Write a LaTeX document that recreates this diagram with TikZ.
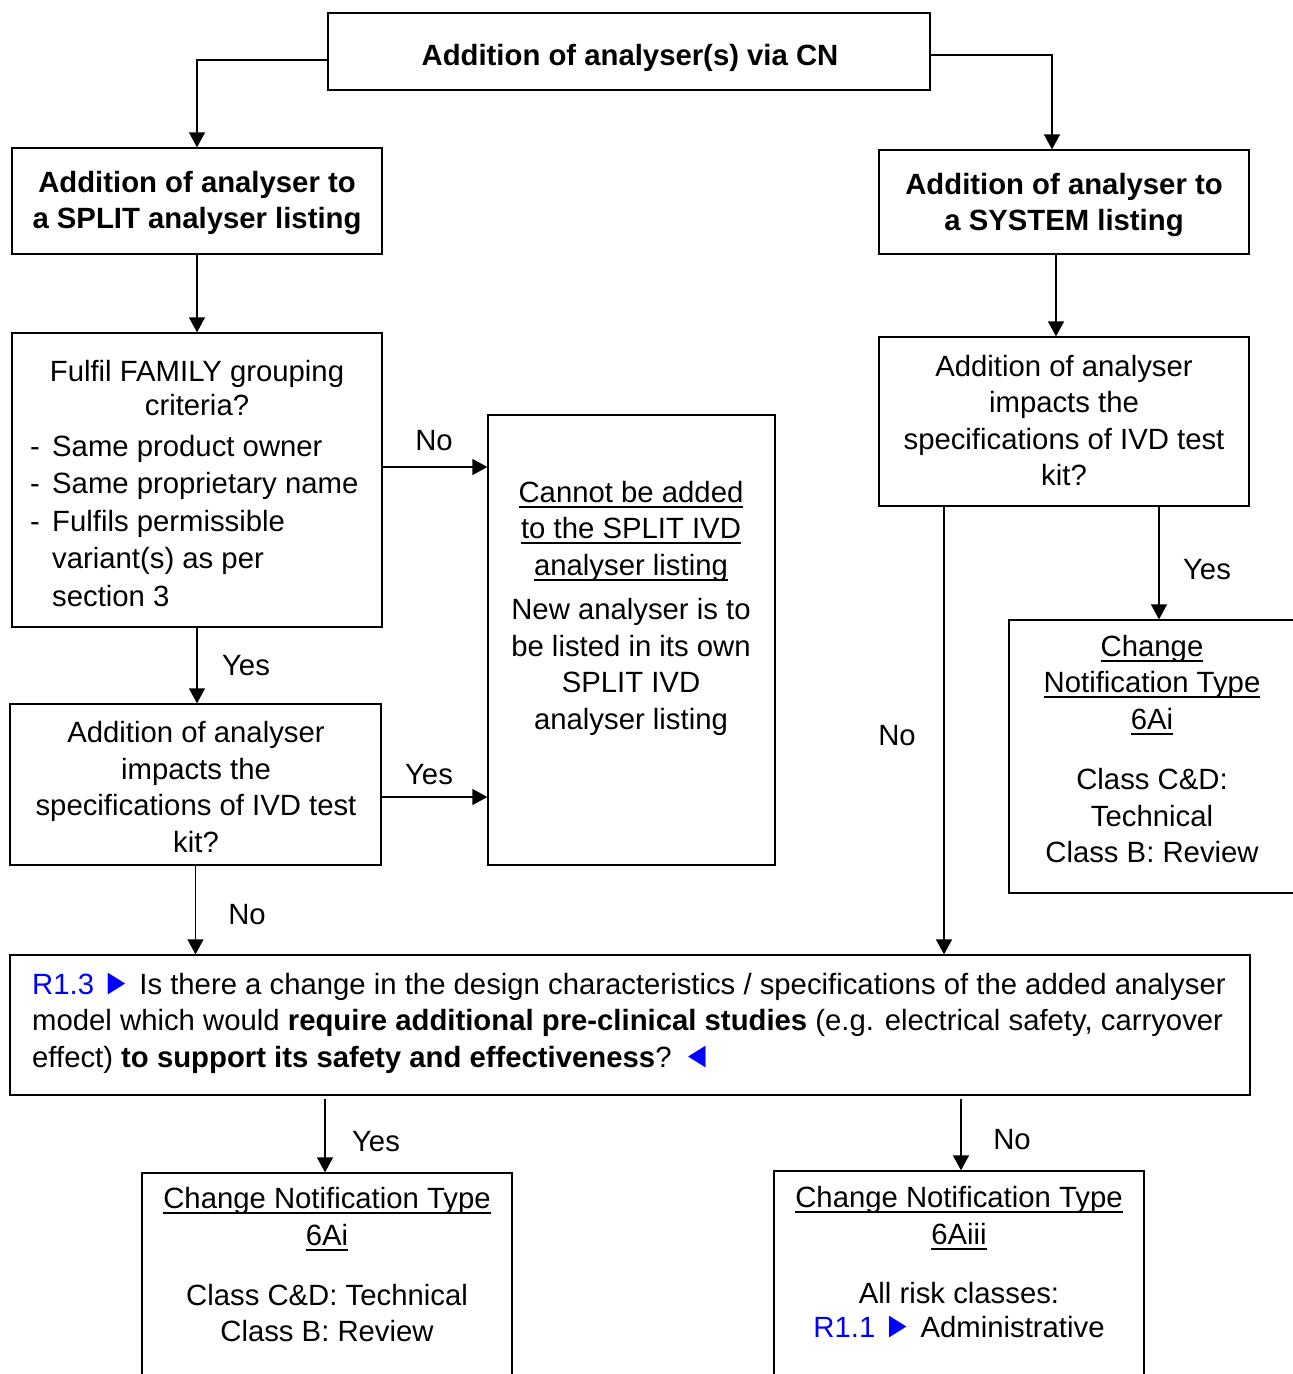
\documentclass[tikz,border=0pt]{standalone}
\usepackage{fontspec}
\setmainfont{Liberation Sans}
\usetikzlibrary{arrows.meta}
\definecolor{refblue}{RGB}{0,0,255}
\newcommand\myul[1]{\leavevmode\setbox0\hbox{#1}\dp0=0pt\vtop{\box0\kern3.5pt\hrule height 1.8pt}}
\newcommand\trir{\scalebox{1.0}[1.25]{►}}
\newcommand\tril{\scalebox{1.0}[1.25]{◄}}
\begin{document}
\begin{tikzpicture}[x=1pt,y=-1pt,
  box/.style={draw, line width=1.3pt, inner sep=0pt, rectangle},
  txt/.style={inner sep=0pt, align=center, font=\fontsize{29.3}{36.5}\selectfont},
  txtl/.style={inner sep=0pt, align=left, anchor=west, font=\fontsize{29.3}{36.5}\selectfont},
  lbl/.style={inner sep=0pt, font=\fontsize{29.3}{36.5}\selectfont},
  arr/.style={line width=1.3pt, -{Triangle[length=15pt,width=16pt]}}]
\useasboundingbox (0,0) rectangle (1293,1374);
\clip (0,0) rectangle (1293,1374);
\fill[white] (0,0) rectangle (1293,1374);
% boxes
\node[box, minimum width=602pt, minimum height=77pt] (top) at (629,51.5) {};
\node[box, minimum width=370pt, minimum height=106pt] (b1) at (197,201) {};
\node[box, minimum width=370pt, minimum height=104pt] (sb1) at (1064,202) {};
\node[box, minimum width=370pt, minimum height=294pt] (fam) at (197,480) {};
\node[box, minimum width=287pt, minimum height=450pt] (cant) at (631.5,640) {};
\node[box, minimum width=371pt, minimum height=161pt] (q3) at (195.5,784.5) {};
\node[box, minimum width=370pt, minimum height=169pt] (rq) at (1064,421.5) {};
\node[box, minimum width=311pt, minimum height=273pt] (rc) at (1164.5,756.5) {};
\node[box, minimum width=1240pt, minimum height=140pt] (big) at (630,1025) {};
\node[box, minimum width=370pt, minimum height=227pt] (bl) at (327,1286.5) {};
\node[box, minimum width=370pt, minimum height=229pt] (br) at (959,1285.5) {};
% texts
\node[txt] (top-t) at (630,58) {\textbf{Addition of analyser(s) via CN}};
\node[txt] (b1-t) at (197,203) {\textbf{Addition of analyser to}\\\textbf{a SPLIT analyser listing}};
\node[txt] (sb1-t) at (1064,205) {\textbf{Addition of analyser to}\\\textbf{a SYSTEM listing}};
\node[txt, font=\fontsize{29.3}{34}\selectfont] (fam-t) at (197,388) {Fulfil FAMILY grouping\\criteria?};
\node[txtl, font=\fontsize{29.3}{37.5}\selectfont] (fam-l) at (30,521) {\makebox[22pt][l]{-}Same product owner\\\makebox[22pt][l]{-}Same proprietary name\\\makebox[22pt][l]{-}Fulfils permissible\\\hspace*{22pt}variant(s) as per\\\hspace*{22pt}section 3};
\node[txt] (cant-t1) at (631,531) {\myul{Cannot be added}\\\myul{to the SPLIT IVD}\\\myul{analyser listing}};
\node[txt] (cant-t2) at (631,667) {New analyser is to\\be listed in its own\\SPLIT IVD\\analyser listing};
\node[txt] (q3-t) at (196,787) {Addition of analyser\\impacts the\\specifications of IVD test\\kit?};
\node[txt] (rq-t) at (1064,420.5) {Addition of analyser\\impacts the\\specifications of IVD test\\kit?};
\node[txt] (rc-t1) at (1152,685) {\myul{Change}\\\myul{Notification Type}\\\myul{6Ai}};
\node[txt] (rc-t2) at (1152,816) {Class C\&D:\\Technical\\Class B: Review};
\node[txtl] (big-t) at (32,1023) {{\color{refblue}R1.3 \trir} Is there a change in the design characteristics / specifications of the added analyser\\model which would \textbf{require additional pre-clinical studies} (e.g. electrical safety, carryover\\effect) \textbf{to support its safety and effectiveness}? {\color{refblue}\tril}};
\node[txt] (bl-t1) at (327,1219) {\myul{Change Notification Type}\\\myul{6Ai}};
\node[txt] (bl-t2) at (327,1313) {Class C\&D: Technical\\Class B: Review};
\node[txt] (br-t1) at (959,1218) {\myul{Change Notification Type}\\\myul{6Aiii}};
\node[txt, font=\fontsize{29.3}{34.5}\selectfont] (br-t2) at (959,1310) {All risk classes:\\{\color{refblue}R1.1 \trir} Administrative};
% connectors
\coordinate (tl) at ([yshift=-8.5pt]top.west);
\draw[arr] (tl) -| (b1.north);
\coordinate (tr) at ([yshift=-3.5pt]top.east);
\draw[arr] (tr) -| ([xshift=-12pt]sb1.north);
\draw[arr] (b1.south) -- (fam.north);
\coordinate (n1) at ([yshift=13pt]fam.east);
\draw[arr] (n1) -- (n1 -| cant.west);
\draw[arr] (fam.south) -- (fam.south |- q3.north);
\coordinate (y2) at ([yshift=-12.5pt]q3.east);
\draw[arr] (y2) -- (y2 -| cant.west);
\draw[arr] (q3.south) -- (q3.south |- big.north);
\coordinate (s1) at ([xshift=-8pt]sb1.south);
\draw[arr] (s1) -- (s1 |- rq.north);
\coordinate (ry) at ([xshift=95pt]rq.south);
\draw[arr] (ry) -- (ry |- rc.north);
\coordinate (rn) at ([xshift=-120pt]rq.south);
\draw[arr] (rn) -- (rn |- big.north);
\coordinate (by) at ([xshift=-305pt,yshift=-3pt]big.south);
\draw[arr] (by) -- (by |- bl.north);
\coordinate (bn) at ([xshift=331pt,yshift=-3pt]big.south);
\draw[arr] (bn) -- (bn |- br.north);
% labels
\node[lbl] (l1) at (434,441) {No};
\node[lbl] (l2) at (246,666) {Yes};
\node[lbl] (l3) at (429,775) {Yes};
\node[lbl] (l4) at (247,915) {No};
\node[lbl] (l5) at (1207,570) {Yes};
\node[lbl] (l6) at (897,736) {No};
\node[lbl] (l7) at (376,1142) {Yes};
\node[lbl] (l8) at (1012,1140) {No};
\end{tikzpicture}
\end{document}
